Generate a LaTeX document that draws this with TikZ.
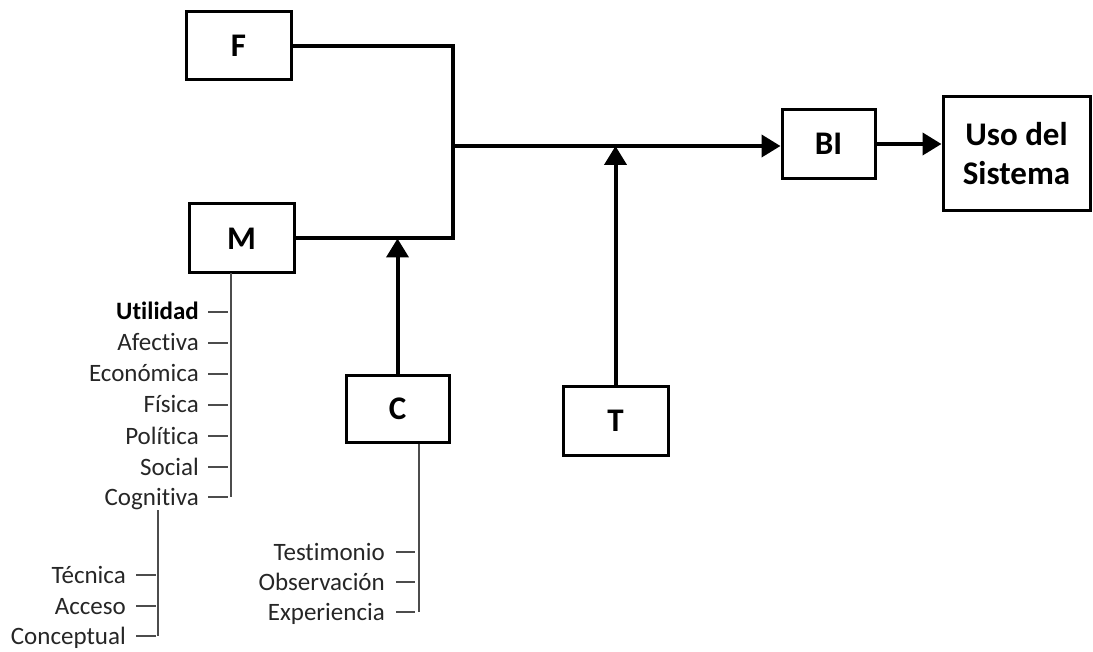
\documentclass[tikz,border=0pt]{standalone}
\usepackage{fontspec}
\setmainfont{Carlito}[Ligatures={NoCommon}]
\usetikzlibrary{arrows.meta,calc}

\begin{document}
\begin{tikzpicture}[x=1pt,y=-1pt,
  box/.style={draw=black, line width=3pt, inner sep=0pt, align=center,
    font=\fontsize{33}{39}\selectfont\bfseries},
  flow/.style={line width=4pt},
  arr/.style={flow, -{Triangle[length=19pt,width=22pt]}},
  thinln/.style={line width=1.5pt, draw=black!70},
  lbl/.style={inner sep=0pt, text=black!85, font=\fontsize{25}{30}\selectfont},
]
\useasboundingbox (0,0) rectangle (1093,652);

% main blocks
\node[box, minimum width=105pt, minimum height=68pt] (F) at (238.5,46) {F};
\node[box, minimum width=105pt, minimum height=69pt] (M) at (241.5,238.5) {M};
\node[box, minimum width=103pt, minimum height=66pt] (C) at (397.5,409) {C};
\node[box, minimum width=105pt, minimum height=68pt] (T) at (615.5,421) {T};
\node[box, minimum width=93pt, minimum height=69pt] (BI) at (828.5,144) {BI};
\node[box, minimum width=147pt, minimum height=114pt] (U) at (1016.5,154) {Uso del\\Sistema};

% junction of F and M
\coordinate (J) at (453,146);
\draw[flow, line join=miter] (F.east) -| (J |- M.east) -- (M.east);
\draw[arr] (J) -- (BI.west |- J);
\draw[arr] (BI.east) -- (U.west |- BI.east);
\draw[arr] (T.north) -- (T.north |- J);
\draw[arr] (C.north) -- (C.north |- M.east);

% utility branch under M
\coordinate (mtop) at (231,273);
\coordinate (mbot) at (231,497);
\draw[thinln] (mtop) -- (mbot);
\node[lbl, anchor=base east, font=\fontsize{25}{30}\selectfont\bfseries, text=black] (u0) at (199,320) {Utilidad};
\draw[thinln] ($(u0.base east)+(9,-8)$) -- ($(u0.base east)+(29,-8)$);
\foreach \t/\y [count=\i] in {Afectiva/343, Económica/374, Física/405, Política/436, Social/467, Cognitiva/497}{
  \node[lbl, anchor=base east] (u\i) at (199,\y+8) {\t};
  \draw[thinln] ($(u\i.base east)+(9,-8)$) -- ($(u\i.base east)+(29,-8)$);
}

% cognitive sub-branch
\coordinate (ctop) at (158,510);
\coordinate (cbot) at (158,636);
\draw[thinln] (ctop) -- (cbot);
\foreach \t/\y [count=\i] in {Técnica/575, Acceso/606, Conceptual/636}{
  \node[lbl, anchor=base east] (k\i) at (126,\y+8) {\t};
  \draw[thinln] ($(k\i.base east)+(10,-8)$) -- ($(k\i.base east)+(30,-8)$);
}

% branch under C
\coordinate (cend) at (419,612);
\draw[thinln] (C.south -| cend) -- (cend);
\foreach \t/\y [count=\i] in {Testimonio/552, Observación/582, Experiencia/612}{
  \node[lbl, anchor=base east] (e\i) at (385,\y+8) {\t};
  \draw[thinln] ($(e\i.base east)+(11,-8)$) -- ($(e\i.base east)+(30,-8)$);
}
\end{tikzpicture}
\end{document}
